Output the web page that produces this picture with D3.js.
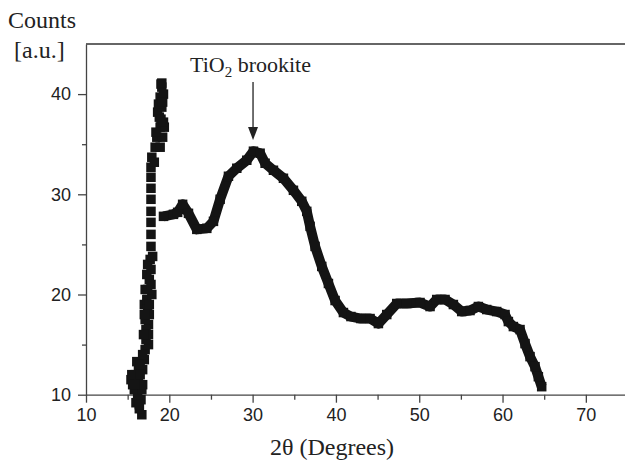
<!DOCTYPE html>
<html>
<head>
<meta charset="utf-8">
<script src="https://cdn.jsdelivr.net/npm/d3@7"></script>
<style>
  body { margin: 0; background: #fff; }
  .tick text { font-family: "Liberation Sans", Arial, sans-serif; font-size: 18px; fill: #222; }
  .axis path, .axis line { stroke: #444; stroke-width: 1.3; }
  .serif { font-family: "Liberation Serif", "Times New Roman", serif; fill: #222; }
</style>
</head>
<body>
<svg id="chart"></svg>
<script>
// rising spike at ~16-19 degrees (drawn as separate markers)
const spikeTheta = [16.7, 16.4, 16.0, 16.6, 15.8, 16.2, 16.7, 15.4, 15.6, 15.9, 16.3, 16.8, 16.8, 16.3, 16.1, 17.0,
    16.4, 15.9, 15.5, 16.5, 16.5,
    17.1, 17.5, 17.2, 17.5, 17.2, 17.1, 17.0, 17.4, 17.3, 17.9, 17.4, 17.6, 17.3, 17.8, 17.7,
    16.8, 17.5, 16.9, 17.6, 17.0, 17.6, 17.1, 17.8, 17.4, 18.0,
    17.8, 17.8, 17.8, 17.8, 17.8, 17.8, 17.8,
    17.8, 17.9, 18.2, 18.3, 18.9, 18.5, 19.2, 18.9, 19.4, 18.8, 19.3, 18.6, 19.1, 18.9, 19.1, 19.0, 19.1,
    18.4, 19.0, 18.7, 19.3, 19.2];
const spikeCounts = [8.0, 8.6, 9.2, 9.5, 10.5, 10.0, 10.5, 11.5, 11.0, 12.0, 11.5, 11.0, 12.5, 12.5, 13.3, 13.5,
    9.0, 11.0, 12.0, 12.0, 13.0,
    14.5, 15.0, 15.5, 17.0, 16.5, 17.5, 19.0, 18.5, 19.5, 20.0, 20.5, 21.5, 22.0, 22.5, 23.5,
    14.0, 16.0, 16.0, 18.0, 18.0, 19.0, 20.5, 21.0, 23.0, 23.8,
    24.8, 26.0, 27.2, 28.3, 29.5, 30.6, 31.7,
    32.7, 33.7, 33.2, 34.7, 34.7, 35.7, 35.7, 36.7, 36.7, 37.7, 37.2, 38.2, 38.7, 39.7, 40.7, 41.0, 41.1,
    36.2, 37.5, 39.0, 40.0, 39.2];

// main pattern from ~19 to 65 degrees
const mainTheta = [19.3, 20.5, 21.0, 21.6, 22.3, 23.3, 24.5, 25.3, 26.1, 27.1, 28.1, 29.3, 30.1, 30.9, 31.5,
    32.5, 33.7, 34.9, 35.9, 36.5, 36.9, 37.5, 38.3, 39.1, 39.9, 40.9, 41.8, 43.0, 44.1, 45.1, 46.1, 47.3,
    48.5, 50.1, 51.3, 52.1, 53.1, 54.1, 55.1, 56.1, 57.1, 58.1, 59.3, 60.3, 60.7, 61.3, 62.1, 62.7, 63.3,
    63.9, 64.3, 64.7];
const mainCounts = [27.8, 28.0, 28.2, 29.0, 28.1, 26.5, 26.6, 27.3, 29.5, 31.8, 32.6, 33.4, 34.3, 34.1, 33.1,
    32.4, 31.6, 30.4, 29.3, 28.3, 26.8, 24.8, 22.8, 21.1, 19.4, 18.2, 17.8, 17.6, 17.6, 17.1, 18.0, 19.1,
    19.1, 19.2, 18.8, 19.5, 19.5, 19.0, 18.3, 18.4, 18.8, 18.5, 18.3, 18.0, 17.3, 16.8, 16.5, 15.1, 13.8,
    12.8, 11.8, 10.8];

const xTicks = [10, 20, 30, 40, 50, 60, 70];
const xMinor = [15, 25, 35, 45, 55, 65, 75];
const yTicks = [10, 20, 30, 40];
const yMinor = [15, 25, 35];

const W = 625, H = 462;
const margin = { left: 86, right: 625, top: 44, bottom: 394.7 };
const mark = 9.5;

const svg = d3.select('#chart')
    .attr('width', W)
    .attr('height', H);

// scales
const x = d3.scaleLinear().domain([10, 74.7]).range([margin.left, margin.right]);
const y = d3.scaleLinear().domain([10, 45]).range([margin.bottom, margin.top]);

// top frame line
svg.append('line')
    .attr('x1', margin.left).attr('x2', margin.right)
    .attr('y1', margin.top).attr('y2', margin.top)
    .attr('stroke', '#333').attr('stroke-width', 1.3);

// minor ticks
svg.append('g').attr('class', 'axis')
    .attr('transform', `translate(0,${margin.bottom})`)
    .call(d3.axisBottom(x).tickValues(xMinor).tickSize(5).tickFormat(''))
    .call(g => g.select('.domain').remove());
svg.append('g').attr('class', 'axis')
    .attr('transform', `translate(${margin.left},0)`)
    .call(d3.axisLeft(y).tickValues(yMinor).tickSize(4).tickFormat(''))
    .call(g => g.select('.domain').remove());

// x-axis
svg.append('g').attr('class', 'axis')
    .attr('transform', `translate(0,${margin.bottom})`)
    .call(d3.axisBottom(x).tickValues(xTicks).tickSize(8).tickSizeOuter(0).tickPadding(6));

// y-axis
svg.append('g').attr('class', 'axis')
    .attr('transform', `translate(${margin.left},0)`)
    .call(d3.axisLeft(y).tickValues(yTicks).tickSize(8).tickSizeOuter(0).tickPadding(7));

// data
const main = mainTheta.map((t, i) => [t, mainCounts[i]]);
const spike = spikeTheta.map((t, i) => [t, spikeCounts[i]]);

svg.append('path')
    .datum(main)
    .attr('fill', 'none')
    .attr('stroke', '#141414')
    .attr('stroke-width', mark + 0.5)
    .attr('stroke-linejoin', 'round')
    .attr('d', d3.line().x(d => x(d[0])).y(d => y(d[1])));

svg.append('g')
    .selectAll('rect')
    .data(main.concat(spike))
    .enter()
    .append('rect')
    .attr('x', d => x(d[0]) - mark / 2)
    .attr('y', d => y(d[1]) - mark / 2)
    .attr('width', mark)
    .attr('height', mark)
    .attr('fill', '#141414');

// axis labels
svg.append('text').attr('class', 'serif')
    .attr('x', 8).attr('y', 28)
    .style('font-size', '24px')
    .text('Counts');
svg.append('text').attr('class', 'serif')
    .attr('x', 14).attr('y', 58)
    .style('font-size', '24px')
    .text('[a.u.]');
svg.append('text').attr('class', 'serif')
    .attr('x', 332).attr('y', 455)
    .style('text-anchor', 'middle')
    .style('font-size', '24px')
    .text('2θ (Degrees)');

// annotation
const note = svg.append('text').attr('class', 'serif')
    .attr('x', 190).attr('y', 72)
    .style('font-size', '22px');
note.append('tspan').text('TiO');
note.append('tspan').attr('dy', 5).style('font-size', '15px').text('2');
note.append('tspan').attr('dy', -5).text(' brookite');

const ax = x(30.05);
svg.append('line')
    .attr('x1', ax).attr('x2', ax)
    .attr('y1', 82).attr('y2', 130)
    .attr('stroke', '#222').attr('stroke-width', 1.3);
svg.append('path')
    .attr('d', `M${ax - 5},127 L${ax + 5},127 L${ax},140 Z`)
    .attr('fill', '#222');
</script>
</body>
</html>
